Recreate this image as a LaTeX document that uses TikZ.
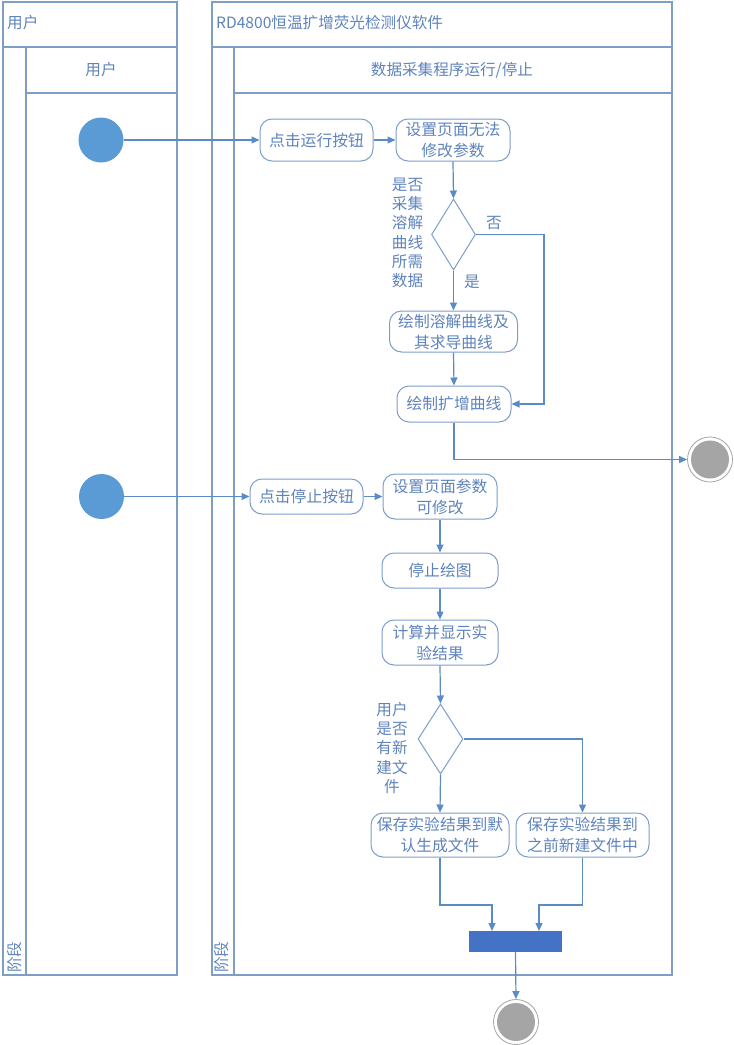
\documentclass[tikz,border=0pt]{standalone}
\usepackage{fontspec}
\setmainfont{Noto Sans CJK SC}
\usetikzlibrary{arrows.meta,shapes.geometric}
\definecolor{linec}{HTML}{5B8BC6}
\definecolor{poolc}{HTML}{7F9EC6}
\definecolor{boxc}{HTML}{7D9DCB}
\definecolor{txtc}{HTML}{5E83BC}
\definecolor{startc}{HTML}{5B9BD5}
\definecolor{barc}{HTML}{4472C4}
\definecolor{endc}{HTML}{A5A5A5}
\tikzset{
  pool/.style={draw=poolc, line width=1.3pt},
  act/.style={draw=boxc, line width=1pt, rounded corners=12pt, text=txtc, align=center,
    inner sep=0pt, font=\fontsize{15.8}{21}\selectfont},
  dec/.style={draw=boxc, line width=1pt, diamond, inner sep=0pt},
  lbl/.style={text=txtc, align=center, inner sep=0pt, font=\fontsize{15.6}{19.3}\selectfont},
  startnode/.style={circle, fill=startc, minimum size=45pt, inner sep=0pt},
  endnode/.style={circle, draw=endc, line width=0.8pt, fill=white, minimum size=45pt, inner sep=0pt,
    path picture={\fill[endc] (path picture bounding box.center) circle (19pt);}},
  arr/.style={draw=linec, line width=1.2pt, -{Triangle[length=8pt,width=7pt]}},
  ln/.style={draw=linec, line width=1.2pt}
}
\begin{document}
\begin{tikzpicture}[x=1pt,y=-1pt]
\useasboundingbox (0,0) rectangle (734,1045);
% pools
\draw[pool] (3,2) rectangle (177,975);
\draw[pool] (3,47) -- (177,47);
\draw[pool] (26,47) -- (26,975);
\draw[pool] (26,93) -- (177,93);
\draw[pool] (212,2) rectangle (672,975);
\draw[pool] (212,47) -- (672,47);
\draw[pool] (234,47) -- (234,975);
\draw[pool] (234,93) -- (672,93);
\node[lbl, anchor=west] (h1) at (7,23) {用户};
\node[lbl] (h1b) at (101,70) {用户};
\node[lbl, anchor=west] (h2) at (216,23) {RD4800恒温扩增荧光检测仪软件};
\node[lbl] (h2b) at (452,70) {数据采集程序运行/停止};
\node[lbl, rotate=90] (ph1) at (14.5,957) {阶段};
\node[lbl, rotate=90] (ph2) at (222,957) {阶段};
% nodes
\node[startnode] (s1) at (101,140) {};
\node[act, minimum width=113pt, minimum height=42pt] (run) at (316.5,140) {点击运行按钮};
\node[act, minimum width=114pt, minimum height=42pt] (noedit) at (453,140) {设置页面无法\\修改参数};
\node[dec, minimum width=44pt, minimum height=71pt] (d1) at (453.5,234.5) {};
\node[lbl] (q1) at (407.5,233) {是否\\采集\\溶解\\曲线\\所需\\数据};
\node[lbl] (no1) at (494,223) {否};
\node[lbl] (yes1) at (472,282) {是};
\node[act, minimum width=128pt, minimum height=41pt] (melt) at (453.5,331.5) {绘制溶解曲线及\\其求导曲线};
\node[act, minimum width=114pt, minimum height=36pt] (amp) at (454,404) {绘制扩增曲线};
\node[endnode] (e1) at (710,459.5) {};
\node[startnode] (s2) at (101.5,496.5) {};
\node[act, minimum width=113pt, minimum height=35pt] (stop) at (306.5,496.5) {点击停止按钮};
\node[act, minimum width=114pt, minimum height=45pt] (edit) at (440,496.5) {设置页面参数\\可修改};
\node[act, minimum width=116pt, minimum height=35pt] (sd) at (440,570.5) {停止绘图};
\node[act, minimum width=116pt, minimum height=45pt] (calc) at (440,642.5) {计算并显示实\\验结果};
\node[dec, minimum width=45pt, minimum height=70pt] (d2) at (440.5,739) {};
\node[lbl] (q2) at (392,748) {用户\\是否\\有新\\建文\\件};
\node[act, minimum width=138pt, minimum height=44pt] (sv1) at (440,835) {保存实验结果到默\\认生成文件};
\node[act, minimum width=133pt, minimum height=44pt] (sv2) at (582.5,835) {保存实验结果到\\之前新建文件中};
\node[fill=barc, minimum width=93pt, minimum height=21pt, inner sep=0pt] (bar) at (515.5,941.5) {};
\node[endnode] (e2) at (516,1022) {};
% helper coordinates
\coordinate (nx) at (544,0);
\coordinate (ey) at (0,459.5);
\coordinate (jy) at (0,905);
\coordinate (ja) at (492,931);
\coordinate (jb) at (539,931);
% connectors
\draw[arr] (s1.east) -- (run.west);
\draw[arr] (run.east) -- (noedit.west);
\draw[arr] (noedit.south) -- (d1.north);
\draw[arr] (d1.south) -- (melt.north);
\draw[arr] (melt.south) -- (amp.north);
\draw[arr] (d1.east) -- (d1.east -| nx) -- (amp.east -| nx) -- (amp.east);
\draw[arr] (amp.south) -- (amp.south |- ey) -- (e1.west);
\draw[arr] (s2.east) -- (stop.west);
\draw[arr] (stop.east) -- (edit.west);
\draw[arr] (edit.south) -- (sd.north);
\draw[arr] (sd.south) -- (calc.north);
\draw[arr] (calc.south) -- (d2.north);
\draw[arr] (d2.south) -- (sv1.north);
\draw[arr] (d2.east) -| (sv2.north);
\draw[arr] (sv1.south) -- (sv1.south |- jy) -| (ja);
\draw[arr] (sv2.south) -- (sv2.south |- jy) -| (jb);
\draw[arr] (bar.south) -- (e2.north);
\end{tikzpicture}
\end{document}
